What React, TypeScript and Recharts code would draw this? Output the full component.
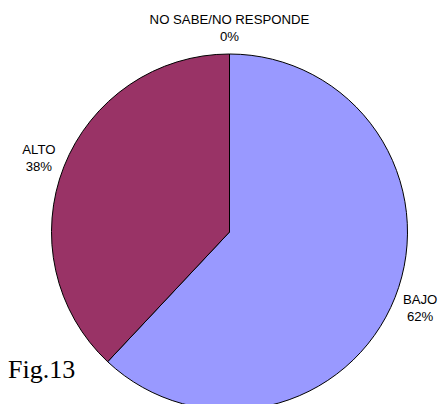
import { PieChart, Pie, Cell } from "recharts";

const categories = ["BAJO", "ALTO", "NO SABE/NO RESPONDE"];
const values = [62, 38, 0];
const colors = ["#9999FF", "#993366", "#FFFFCC"];

const data = categories.map((name, i) => ({ name, value: values[i] }));

const RAD = Math.PI / 180;

const renderLabel = (props: any) => {
  const { cx, cy, midAngle, outerRadius, index } = props;
  const r = outerRadius + 27;
  const x = cx + r * Math.cos(-midAngle * RAD);
  const y = cy + r * Math.sin(-midAngle * RAD);
  return (
    <text
      x={x}
      y={y}
      textAnchor="middle"
      fill="#000"
      fontSize={13.2}
      fontFamily="'Liberation Sans', Arial, sans-serif"
    >
      <tspan x={x} dy={-3}>
        {categories[index]}
      </tspan>
      <tspan x={x} dy={17}>
        {values[index]}%
      </tspan>
    </text>
  );
};

export default function App() {
  return (
    <div
      style={{
        position: "absolute",
        left: 0,
        top: 0,
        width: 438,
        height: 404,
        background: "#fff",
        overflow: "hidden",
      }}
    >
      <PieChart
        width={438}
        height={404}
        margin={{ top: 0, right: 0, bottom: 0, left: 0 }}
      >
        <Pie
          data={data}
          dataKey="value"
          nameKey="name"
          cx={229.5}
          cy={232}
          outerRadius={178}
          startAngle={90}
          endAngle={-270}
          stroke="#000"
          strokeWidth={1}
          label={renderLabel}
          labelLine={false}
          isAnimationActive={false}
        >
          {data.map((d, i) => (
            <Cell key={d.name} fill={colors[i]} />
          ))}
        </Pie>
      </PieChart>
      <div
        style={{
          position: "absolute",
          left: 8,
          top: 355,
          fontFamily: "'Liberation Serif', 'Times New Roman', serif",
          fontSize: 26,
          lineHeight: "30px",
          color: "#000",
        }}
      >
        Fig.13
      </div>
    </div>
  );
}
